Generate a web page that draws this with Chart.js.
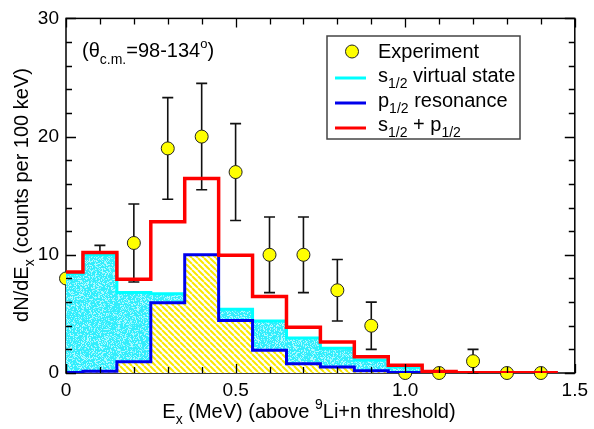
<!DOCTYPE html>
<html>
<head>
<meta charset="utf-8">
<script src="https://cdn.jsdelivr.net/npm/chart.js@4.4.0/dist/chart.umd.min.js"></script>
<style>
  html, body { margin: 0; padding: 0; background: #fff; }
  canvas { display: block; }
</style>
</head>
<body>
<canvas id="graphEx" width="594" height="429"></canvas>
<script>
// histogram bins (MeV), first bin is a half bin starting at 0
const binEdges = [0, 0.05, 0.15, 0.25, 0.35, 0.45, 0.55, 0.65, 0.75, 0.85, 0.95, 1.05, 1.15, 1.25, 1.35, 1.45];
const sumValues = [8.55, 10.2, 7.94, 12.8, 16.45, 9.97, 6.48, 3.88, 2.62, 1.37, 0.65, 0.12, 0.03, 0.02, 0.02];
const sWaveValues = [8.4, 10.0, 6.8, 6.7, 6.4, 5.4, 4.4, 2.96, 2.1, 1.1, 0.5, 0.1, 0.02, 0.01, 0.01];
const pWaveValues = [0.05, 0.15, 0.95, 5.95, 10.0, 4.45, 1.93, 0.78, 0.5, 0.2, 0.05, 0.02, 0.01, 0, 0];

// experiment
const expEnergy = [0, 0.1, 0.2, 0.3, 0.4, 0.5, 0.6, 0.7, 0.8, 0.9, 1.0, 1.1, 1.2, 1.3, 1.4];
const expCounts = [8, 8, 11, 19, 20, 17, 10, 10, 7, 4, 0, 0, 1, 0, 0];
const expErrors = [0, 2.8, 3.3, 4.3, 4.5, 4.1, 3.2, 3.2, 2.6, 2.0, 0, 0, 1.0, 0, 0];

const xMajorTicks = [0, 0.5, 1, 1.5];
const yMajorTicks = [0, 10, 20, 30];

const FONT = '"Liberation Sans", Arial, Helvetica, sans-serif';

function steps(values) {
  const pts = values.map((v, i) => ({x: binEdges[i], y: v}));
  pts.push({x: binEdges[binEdges.length - 1], y: values[values.length - 1]});
  return pts;
}

// cyan speckled fill (texture only)
function cyanPattern() {
  const n = 97;
  const c = document.createElement('canvas');
  c.width = n; c.height = n;
  const g = c.getContext('2d');
  g.fillStyle = 'rgb(50,238,252)';
  g.fillRect(0, 0, n, n);
  for (let yy = 0; yy < n; yy++) {
    for (let xx = 0; xx < n; xx++) {
      let h = Math.imul(xx + 1, 0x9E3779B1) ^ Math.imul(yy + 7, 0x85EBCA77);
      h ^= h >>> 15; h = Math.imul(h, 0x2C1B3C6D);
      h ^= h >>> 12; h = Math.imul(h, 0x297A2D39);
      h ^= h >>> 15;
      const r = (h >>> 0) % 100;
      if (r < 22) {
        g.fillStyle = 'rgb(175,250,255)';
        g.fillRect(xx, yy, 1, 1);
      } else if (r < 36) {
        g.fillStyle = 'rgb(120,245,255)';
        g.fillRect(xx, yy, 1, 1);
      }
    }
  }
  return g.createPattern(c, 'repeat');
}

// yellow hatch
function hatchPattern() {
  const c = document.createElement('canvas');
  c.width = 6; c.height = 6;
  const g = c.getContext('2d');
  g.fillStyle = '#fff';
  g.fillRect(0, 0, 6, 6);
  g.strokeStyle = 'rgb(250,232,0)';
  g.lineWidth = 2;
  g.beginPath();
  for (let k = -1; k <= 1; k++) {
    g.moveTo(k * 6, 0);
    g.lineTo(k * 6 + 6, 6);
  }
  g.stroke();
  return g.createPattern(c, 'repeat');
}

function richText(ctx, parts, x, y, align) {
  let w = 0;
  parts.forEach(p => {
    ctx.font = p.size + 'px ' + FONT;
    p.w = ctx.measureText(p.t).width;
    w += p.w;
  });
  let cx = align === 'center' ? x - w / 2 : x;
  parts.forEach(p => {
    ctx.font = p.size + 'px ' + FONT;
    ctx.fillText(p.t, cx, y + (p.dy || 0));
    cx += p.w;
  });
}

const frame = {
  id: 'frame',
  beforeDatasetsDraw(chart) {
    const {ctx, chartArea: a} = chart;
    ctx.save();
    ctx.strokeStyle = '#000';
    ctx.lineWidth = 1.5;
    ctx.strokeRect(a.left, a.top, a.right - a.left, a.bottom - a.top);
    ctx.restore();
  }
};

const errorBars = {
  id: 'errorBars',
  beforeDatasetsDraw(chart) {
    const {ctx, scales: {x, y}} = chart;
    ctx.save();
    ctx.strokeStyle = '#111';
    ctx.lineWidth = 1.6;
    expEnergy.forEach((e, i) => {
      const err = expErrors[i];
      if (!err) return;
      const px = x.getPixelForValue(e);
      const top = y.getPixelForValue(expCounts[i] + err);
      const bot = y.getPixelForValue(Math.max(0, expCounts[i] - err));
      ctx.beginPath();
      ctx.moveTo(px, top); ctx.lineTo(px, bot);
      ctx.moveTo(px - 5.5, top); ctx.lineTo(px + 5.5, top);
      ctx.moveTo(px - 5.5, bot); ctx.lineTo(px + 5.5, bot);
      ctx.stroke();
    });
    ctx.restore();
  }
};

const tickMarks = {
  id: 'tickMarks',
  afterDatasetsDraw(chart) {
    const {ctx, chartArea: a, scales: {x, y}} = chart;
    ctx.save();
    ctx.strokeStyle = '#000';
    ctx.lineWidth = 1.3;
    ctx.beginPath();
    for (let i = 0; i <= 15; i++) {
      const px = Math.round(x.getPixelForValue(i / 10)) + 0.5;
      const len = i % 5 === 0 ? 9 : 6;
      ctx.moveTo(px, a.bottom); ctx.lineTo(px, a.bottom - len);
      ctx.moveTo(px, a.top); ctx.lineTo(px, a.top + len);
    }
    for (let v = 0; v <= 30; v += 2) {
      const py = Math.round(y.getPixelForValue(v)) + 0.5;
      const len = v % 10 === 0 ? 10 : 6;
      ctx.moveTo(a.left, py); ctx.lineTo(a.left + len, py);
      ctx.moveTo(a.right, py); ctx.lineTo(a.right - len, py);
    }
    ctx.stroke();
    ctx.restore();
  }
};

const labels = {
  id: 'labels',
  afterDraw(chart) {
    const ctx = chart.ctx;
    ctx.save();
    ctx.fillStyle = '#000';
    ctx.textAlign = 'left';
    ctx.textBaseline = 'alphabetic';

    // x title
    richText(ctx, [
      {t: 'E', size: 20}, {t: 'x', size: 14, dy: 6},
      {t: ' (MeV) (above ', size: 20}, {t: '9', size: 14, dy: -9},
      {t: 'Li+n threshold)', size: 20}
    ], 309, 418, 'center');

    // y title
    ctx.save();
    ctx.translate(28, 195);
    ctx.rotate(-Math.PI / 2);
    richText(ctx, [
      {t: 'dN/dE', size: 20}, {t: 'x', size: 14, dy: 6},
      {t: ' (counts per 100 keV)', size: 20}
    ], 0, 0, 'center');
    ctx.restore();

    // angle range
    richText(ctx, [
      {t: '(\u03b8', size: 20}, {t: 'c.m.', size: 14, dy: 7},
      {t: '=98-134', size: 20}, {t: 'o', size: 13, dy: -9},
      {t: ')', size: 20}
    ], 82, 57, 'left');

    // legend
    ctx.fillStyle = '#fff';
    ctx.fillRect(327, 36, 193, 103);
    ctx.strokeStyle = '#444';
    ctx.lineWidth = 1.5;
    ctx.strokeRect(327, 36, 193, 103);

    ctx.beginPath();
    ctx.arc(352, 51.5, 6.5, 0, Math.PI * 2);
    ctx.fillStyle = '#ffff00';
    ctx.fill();
    ctx.strokeStyle = '#222';
    ctx.lineWidth = 1;
    ctx.stroke();

    const legendLines = [['#00ffff', 78], ['rgb(0,0,235)', 103], ['#ff0000', 128]];
    legendLines.forEach(([c, ly]) => {
      ctx.strokeStyle = c;
      ctx.lineWidth = 3;
      ctx.beginPath();
      ctx.moveTo(335, ly); ctx.lineTo(366, ly);
      ctx.stroke();
    });

    ctx.fillStyle = '#000';
    richText(ctx, [{t: 'Experiment', size: 20}], 378, 58, 'left');
    richText(ctx, [{t: 's', size: 20}, {t: '1/2', size: 14, dy: 6}, {t: ' virtual state', size: 20}], 378, 82, 'left');
    richText(ctx, [{t: 'p', size: 20}, {t: '1/2', size: 14, dy: 6}, {t: ' resonance', size: 20}], 378, 107, 'left');
    richText(ctx, [{t: 's', size: 20}, {t: '1/2', size: 14, dy: 6}, {t: ' + p', size: 20}, {t: '1/2', size: 14, dy: 6}], 378, 131, 'left');
    ctx.restore();
  }
};

const ctx = document.getElementById('graphEx');
new Chart(ctx, {
  type: 'line',
  data: {
    datasets: [
      {
        label: 's1/2 + p1/2',
        data: steps(sumValues),
        stepped: 'before',
        borderColor: '#ff0000',
        borderWidth: 3.5,
        pointRadius: 0,
        fill: false,
        order: 0
      },
      {
        label: 'p1/2 resonance',
        data: steps(pWaveValues),
        stepped: 'before',
        borderColor: 'rgb(0,0,235)',
        borderWidth: 3,
        backgroundColor: hatchPattern(),
        pointRadius: 0,
        fill: 'origin',
        order: 1
      },
      {
        label: 's1/2 virtual state',
        data: steps(sWaveValues),
        stepped: 'before',
        borderColor: '#00ffff',
        borderWidth: 3,
        backgroundColor: cyanPattern(),
        pointRadius: 0,
        fill: 'origin',
        order: 2
      },
      {
        label: 'Experiment',
        data: expEnergy.map((e, i) => ({x: e, y: expCounts[i]})),
        showLine: false,
        pointRadius: 6.5,
        pointBackgroundColor: '#ffff00',
        pointBorderColor: '#222',
        pointBorderWidth: 1,
        clip: false,
        order: 3
      }
    ]
  },
  options: {
    responsive: false,
    animation: false,
    devicePixelRatio: 1,
    layout: { padding: { top: 15, right: 16, left: 0, bottom: 0 } },
    plugins: { legend: { display: false }, tooltip: { enabled: false } },
    events: [],
    scales: {
      x: {
        type: 'linear',
        min: 0,
        max: 1.5,
        afterFit: s => { s.height = 56; },
        afterBuildTicks: s => { s.ticks = xMajorTicks.map(v => ({value: v})); },
        grid: { display: false, drawTicks: false },
        border: { display: false },
        ticks: { font: { family: FONT, size: 19 }, color: '#000', padding: 6, maxRotation: 0 }
      },
      y: {
        min: 0,
        max: 30,
        afterFit: s => { s.width = 66; },
        afterBuildTicks: s => { s.ticks = yMajorTicks.map(v => ({value: v})); },
        grid: { display: false, drawTicks: false },
        border: { display: false },
        ticks: { font: { family: FONT, size: 19 }, color: '#000', padding: 7 }
      }
    }
  },
  plugins: [frame, errorBars, tickMarks, labels]
});
</script>
</body>
</html>
